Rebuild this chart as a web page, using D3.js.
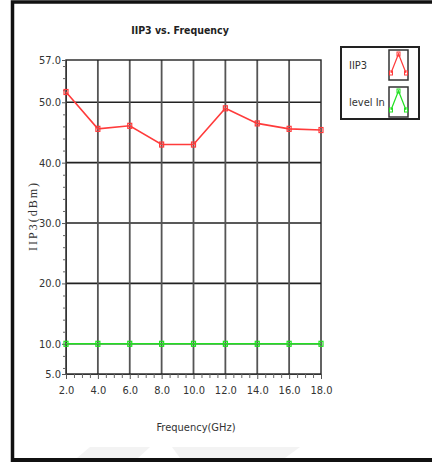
<!DOCTYPE html>
<html>
<head>
<meta charset="utf-8">
<script src="https://cdn.jsdelivr.net/npm/d3@7"></script>
<style>
  body { margin: 0; background: #fff; }
  svg { display: block; }
</style>
</head>
<body>
<script>
// chart values
var freqs = [2, 4, 6, 8, 10, 12, 14, 16, 18];
var iip3 = [51.7, 45.6, 46.1, 43.0, 43.0, 49.0, 46.5, 45.6, 45.4];
var levelIn = [10, 10, 10, 10, 10, 10, 10, 10, 10];
var yTicks = [5, 10, 20, 30, 40, 50, 57];
var xTicks = [2, 4, 6, 8, 10, 12, 14, 16, 18];
var seriesNames = ["IIP3", "level In"];

const W = 432, H = 462;
const narrow = "'DejaVu Sans Condensed', 'DejaVu Sans', sans-serif";
const red = "#ff3b3b", green = "#22e022";

var svg = d3.select("body").append("svg")
    .attr("width", W)
    .attr("height", H);

// outer frame (no right edge)
svg.append("rect").attr("x", 0).attr("y", 0).attr("width", W).attr("height", H).attr("fill", "#fff");
svg.append("path")
    .attr("d", "M12.5," + H + " V2 H" + W)
    .attr("fill", "none").attr("stroke", "#111").attr("stroke-width", 3.5);
svg.append("line")
    .attr("x1", 11).attr("x2", W).attr("y1", 460).attr("y2", 460)
    .attr("stroke", "#111").attr("stroke-width", 4);

// faint watermark shapes near the bottom
svg.append("path").attr("d", "M77,458 L90,447 L150,447 L138,458 Z").attr("fill", "#f3f3f3");
svg.append("path").attr("d", "M172,447 L300,447 L285,458 L180,458 Z").attr("fill", "#f3f3f3");

var x = d3.scaleLinear().domain([2, 18]).range([66, 321]);
var y = d3.scaleLinear().domain([5, 57]).range([374, 60]);

var plot = svg.append("g");

// grid
plot.selectAll(".hg").data(yTicks.filter(d => d > 5 && d < 57)).enter()
    .append("line")
    .attr("x1", x(2)).attr("x2", x(18))
    .attr("y1", d => y(d)).attr("y2", d => y(d))
    .attr("stroke", "#222").attr("stroke-width", 1.6);
plot.selectAll(".vg").data(xTicks.filter(d => d > 2 && d < 18)).enter()
    .append("line")
    .attr("x1", d => x(d)).attr("x2", d => x(d))
    .attr("y1", y(57)).attr("y2", y(5))
    .attr("stroke", "#555").attr("stroke-width", 1.8);

// frame of plot
plot.append("rect")
    .attr("x", x(2)).attr("y", y(57))
    .attr("width", x(18) - x(2)).attr("height", y(5) - y(57))
    .attr("fill", "none").attr("stroke", "#222").attr("stroke-width", 1.4);

// axes
var minorY = d3.range(6, 57, 2).filter(d => yTicks.indexOf(d) < 0);
var yAxis = d3.axisLeft(y).tickValues(yTicks).tickFormat(d3.format(".1f")).tickSize(4).tickPadding(1);
var gy = svg.append("g").attr("transform", "translate(" + x(2) + ",0)").call(yAxis);
gy.selectAll("text").attr("font-family", narrow).attr("font-size", 11).attr("fill", "#333");
gy.select(".domain").attr("stroke", "#333");
gy.selectAll(".tick line").attr("stroke", "#555");
svg.append("g").attr("transform", "translate(" + x(2) + ",0)")
    .call(d3.axisLeft(y).tickValues(minorY).tickSize(3).tickFormat(""))
    .call(g => g.select(".domain").remove())
    .selectAll("line").attr("stroke", "#666");

var xAxis = d3.axisBottom(x).tickValues(xTicks).tickFormat(d3.format(".1f")).tickSize(5).tickPadding(7);
var gx = svg.append("g").attr("transform", "translate(0," + y(5) + ")").call(xAxis);
gx.selectAll("text").attr("font-family", narrow).attr("font-size", 11).attr("fill", "#333");
gx.select(".domain").attr("stroke", "#333");
gx.selectAll(".tick line").attr("stroke", "#555");
var minorX = d3.range(2.5, 18, 0.5).filter(d => xTicks.indexOf(d) < 0);
svg.append("g").attr("transform", "translate(0," + y(5) + ")")
    .call(d3.axisBottom(x).tickValues(minorX).tickSize(4).tickFormat(""))
    .call(g => g.select(".domain").remove())
    .selectAll("line").attr("stroke", "#666");

// series
function drawSeries(vals, col) {
    var pts = freqs.map((f, i) => [f, vals[i]]);
    var line = d3.line().x(d => x(d[0])).y(d => y(d[1]));
    svg.append("path").datum(pts)
        .attr("d", line)
        .attr("fill", "none").attr("stroke", col).attr("stroke-width", 1.6);
    svg.selectAll(null).data(pts).enter().append("rect")
        .attr("x", d => x(d[0]) - 2).attr("y", d => y(d[1]) - 2.5)
        .attr("width", 4).attr("height", 5)
        .attr("fill", "none").attr("stroke", col).attr("stroke-width", 1.2);
}
drawSeries(levelIn, green);
drawSeries(iip3, red);

// titles
svg.append("text")
    .attr("x", 180).attr("y", 34)
    .attr("text-anchor", "middle")
    .attr("font-family", narrow).attr("font-weight", "bold").attr("font-size", 10.5)
    .attr("fill", "#222")
    .text("IIP3 vs. Frequency");
svg.append("text")
    .attr("x", 196).attr("y", 431)
    .attr("text-anchor", "middle")
    .attr("font-family", narrow).attr("font-size", 11)
    .attr("fill", "#333")
    .text("Frequency(GHz)");
svg.append("text")
    .attr("transform", "translate(37,216) rotate(-90)")
    .attr("text-anchor", "middle")
    .attr("font-family", "'Liberation Serif', serif").attr("font-size", 12)
    .attr("letter-spacing", 2)
    .attr("fill", "#333")
    .text("IIP3(dBm)");

// legend
var leg = svg.append("g");
leg.append("rect").attr("x", 341).attr("y", 47).attr("width", 78).attr("height", 72)
    .attr("fill", "#fff").attr("stroke", "#222").attr("stroke-width", 2);
var cols = [red, green];
seriesNames.forEach(function (name, i) {
    var top = 49 + i * 37;
    leg.append("text")
        .attr("x", 349).attr("y", top + 20)
        .attr("font-family", narrow).attr("font-size", 11)
        .attr("fill", "#333")
        .text(name);
    leg.append("rect").attr("x", 389).attr("y", top + 1).attr("width", 19).attr("height", 30)
        .attr("fill", "#fff").attr("stroke", "#333").attr("stroke-width", 1.5);
    var icon = [[391, top + 24], [398.5, top + 5], [406, top + 24]];
    leg.append("path").datum(icon)
        .attr("d", d3.line())
        .attr("fill", "none").attr("stroke", cols[i]).attr("stroke-width", 1.2);
    icon.forEach(function (p) {
        leg.append("rect").attr("x", p[0] - 1.5).attr("y", p[1] - 2).attr("width", 3).attr("height", 4)
            .attr("fill", "none").attr("stroke", cols[i]).attr("stroke-width", 1);
    });
});
</script>
</body>
</html>
